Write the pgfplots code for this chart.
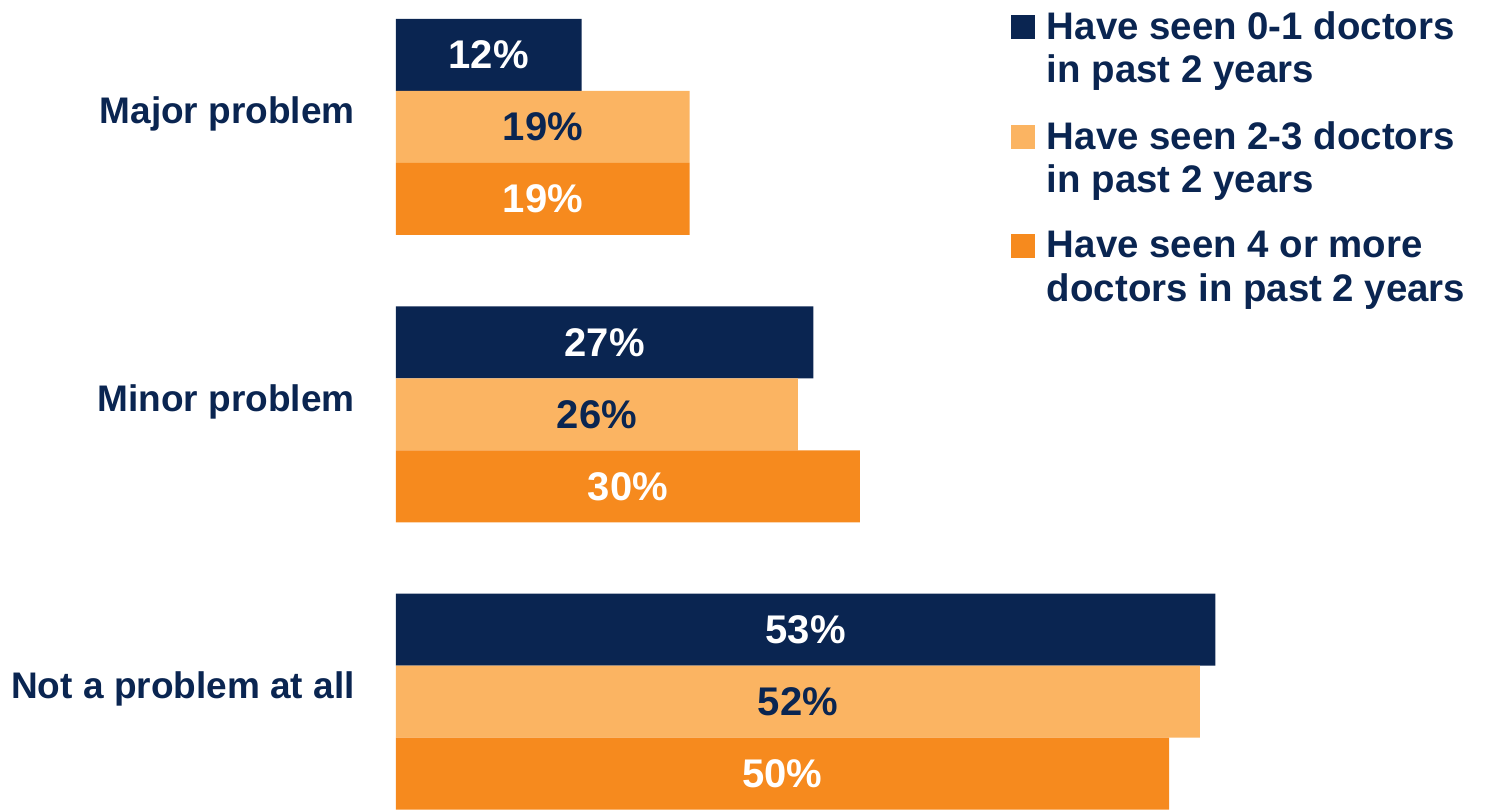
\documentclass[border=0pt]{standalone}
\usepackage{fontspec}
\setmainfont{Liberation Sans}
\usepackage{pgfplots}
\pgfplotsset{compat=1.18}

\definecolor{navy}{HTML}{0A2551}
\definecolor{lightorange}{HTML}{FBB462}
\definecolor{darkorange}{HTML}{F68A1E}

\begin{document}
\begin{tikzpicture}
\useasboundingbox (-198pt,0pt) rectangle (545pt,404.5pt);
\begin{axis}[
  at={(0pt,0pt)}, anchor=south west,
  scale only axis,
  width=545pt, height=404.5pt,
  xbar=0pt, bar width=36pt,
  xmin=0, xmax=70.505,
  ymin=-0.442, ymax=2.374,
  y dir=reverse,
  enlargelimits=false,
  axis line style={draw=none},
  xtick=\empty,
  ytick={0,1,2},
  yticklabels={Major problem, Minor problem, Not a problem at all},
  major tick length=0pt,
  yticklabel style={anchor=base east, inner sep=0pt, xshift=-20.5pt, yshift=1.5pt,
    font=\fontsize{18.5}{22}\selectfont\bfseries, text=navy},
  /pgf/number format/assume math mode=true,
  nodes near coords={\pgfmathprintnumber{\pgfplotspointmeta}\%},
  visualization depends on=rawx\as\rawx,
  every node near coord/.append style={anchor=center, inner sep=0pt,
    xshift=-0.5*\rawx*7.73pt, font=\fontsize{20}{22}\selectfont\bfseries},
  legend image code/.code={\fill[#1] (0pt,5pt) rectangle (12pt,17pt);},
  legend cell align=left,
  legend style={draw=none, fill=none, inner sep=0pt, outer sep=0pt,
    at={(axis description cs:0.5642,0.986)}, anchor=north west,
    font=\fontsize{19.2}{21.8}\selectfont\bfseries, text=navy,
    cells={align=left}, column sep=6pt, row sep=17.8pt,
    nodes={inner sep=0pt}},
]
\addplot+[fill=navy, draw=none, bar shift=36pt,
  every node near coord/.append style={text=white}]
  coordinates {(12,0) (27,1) (53,2)};
\addlegendentry{Have seen 0-1 doctors\\in past 2 years}
\addplot+[fill=lightorange, draw=none, bar shift=0pt,
  every node near coord/.append style={text=navy}]
  coordinates {(19,0) (26,1) (52,2)};
\addlegendentry{Have seen 2-3 doctors\\in past 2 years}
\addplot+[fill=darkorange, draw=none, bar shift=-36pt,
  every node near coord/.append style={text=white}]
  coordinates {(19,0) (30,1) (50,2)};
\addlegendentry{Have seen 4 or more\\doctors in past 2 years}
\end{axis}
\end{tikzpicture}
\end{document}
